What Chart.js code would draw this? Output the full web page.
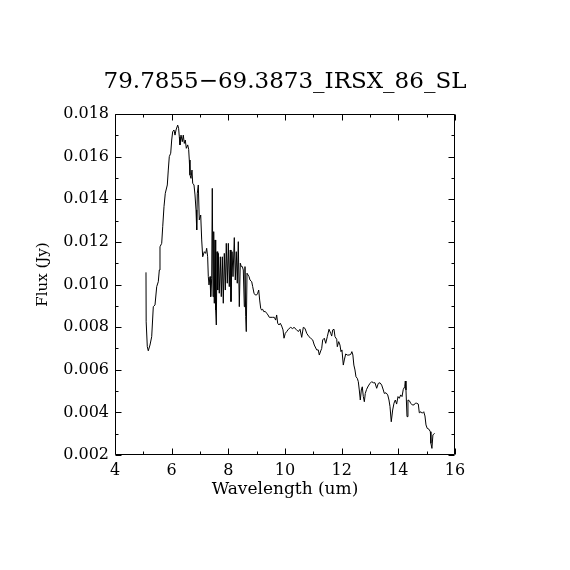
<!DOCTYPE html>
<html>
<head>
<meta charset="utf-8">
<script src="https://cdn.jsdelivr.net/npm/chart.js@4.4.1/dist/chart.umd.min.js"></script>
<style>
  html, body { margin: 0; padding: 0; background: #ffffff; }
  #wrap { width: 570px; height: 570px; position: relative; }
</style>
</head>
<body>
<div id="wrap"><canvas id="c" width="570" height="570"></canvas></div>
<script>
const chartTitle = "79.7855\u221269.3873_IRSX_86_SL";
const xTitle = "Wavelength (um)";
const yTitle = "Flux (Jy)";
const xTicks = [4, 6, 8, 10, 12, 14, 16];
const yTicks = [0.002, 0.004, 0.006, 0.008, 0.010, 0.012, 0.014, 0.016, 0.018];

const wavelength = [5.094,5.10,5.14,5.175,5.235,5.295,5.352,5.412,5.472,5.528,5.564,5.588,5.648,5.684,5.729,5.775,5.846,5.881,5.916,5.966,6.001,6.036,6.082,6.118,6.153,6.213,6.245,6.27,6.294,6.33,6.375,6.41,6.446,6.48,6.517,6.566,6.60,6.622,6.647,6.682,6.717,6.742,6.788,6.824,6.859,6.884,6.905,6.94,6.975,7.025,7.06,7.095,7.152,7.20,7.236,7.27,7.293,7.318,7.353,7.378,7.413,7.434,7.459,7.484,7.505,7.53,7.554,7.576,7.60,7.625,7.646,7.68,7.717,7.752,7.787,7.822,7.858,7.893,7.928,7.963,8.0,8.034,8.069,8.094,8.13,8.165,8.211,8.246,8.281,8.316,8.352,8.387,8.422,8.458,8.494,8.528,8.564,8.588,8.613,8.634,8.659,8.69,8.73,8.765,8.825,8.86,8.906,8.95,9.0,9.036,9.072,9.106,9.142,9.176,9.21,9.255,9.30,9.355,9.40,9.446,9.506,9.566,9.622,9.67,9.706,9.742,9.788,9.834,9.883,9.93,9.965,10.01,10.06,10.118,10.2,10.27,10.318,10.39,10.47,10.53,10.59,10.646,10.706,10.766,10.847,10.907,10.977,11.034,11.118,11.175,11.21,11.26,11.295,11.33,11.388,11.437,11.493,11.553,11.613,11.648,11.684,11.729,11.765,11.825,11.846,11.895,11.94,11.976,12.01,12.058,12.093,12.142,12.2,12.26,12.32,12.36,12.396,12.43,12.47,12.505,12.55,12.587,12.622,12.658,12.693,12.728,12.764,12.8,12.834,12.88,12.94,13.0,13.06,13.117,13.176,13.236,13.293,13.353,13.413,13.47,13.505,13.565,13.625,13.67,13.706,13.75,13.8,13.847,13.893,13.94,13.988,14.034,14.084,14.13,14.175,14.225,14.246,14.27,14.306,14.34,14.387,14.436,14.49,14.553,14.6,14.648,14.705,14.74,14.8,14.846,14.896,14.94,14.976,15.02,15.08,15.13,15.15,15.186,15.22,15.28];

const flux = [0.01057,0.00825,0.00708,0.00689,0.00716,0.00755,0.00896,0.00904,0.00990,0.01013,0.01068,0.01177,0.01193,0.01271,0.01365,0.01428,0.01467,0.01537,0.0160,0.01616,0.01678,0.01717,0.01725,0.01701,0.01725,0.01748,0.01733,0.01693,0.01655,0.01701,0.0167,0.01701,0.01662,0.01678,0.01639,0.01655,0.01634,0.01584,0.01514,0.01498,0.01537,0.01475,0.01467,0.0142,0.0135,0.01256,0.01428,0.01467,0.01303,0.01326,0.01209,0.01130,0.01154,0.01146,0.0117,0.0113,0.01037,0.00998,0.01037,0.00943,0.01029,0.01451,0.00943,0.01248,0.00912,0.01209,0.0088,0.0081,0.01154,0.00974,0.01146,0.00959,0.0113,0.00943,0.0113,0.00912,0.01146,0.00974,0.01193,0.01006,0.01193,0.0099,0.01162,0.0092,0.01154,0.01037,0.0122,0.01021,0.01154,0.01006,0.01201,0.00896,0.011,0.01084,0.01084,0.01068,0.00896,0.01084,0.00849,0.00779,0.01053,0.01053,0.01037,0.01021,0.01013,0.0099,0.00959,0.00951,0.00951,0.00959,0.00974,0.00927,0.00888,0.0088,0.00884,0.00872,0.00874,0.00865,0.00857,0.00846,0.00846,0.00846,0.00846,0.00833,0.00857,0.00818,0.0081,0.00818,0.00805,0.00787,0.00748,0.00771,0.00779,0.0079,0.00799,0.00793,0.00799,0.0079,0.00779,0.0079,0.00752,0.00799,0.00794,0.00771,0.00755,0.00748,0.0074,0.00716,0.00693,0.00693,0.00669,0.00688,0.007,0.0074,0.00748,0.00724,0.00755,0.0079,0.00771,0.00758,0.00787,0.0079,0.00755,0.00743,0.00708,0.00732,0.00716,0.00685,0.00693,0.00622,0.00646,0.00674,0.00669,0.00669,0.00672,0.00685,0.00669,0.00622,0.00599,0.00567,0.0056,0.00544,0.00505,0.00458,0.00505,0.0052,0.00474,0.0045,0.00489,0.00508,0.00524,0.00536,0.00544,0.00539,0.00539,0.00513,0.00536,0.00539,0.00528,0.00505,0.00489,0.00492,0.00482,0.00458,0.00427,0.00356,0.00411,0.00443,0.00458,0.00439,0.00474,0.00466,0.00482,0.00474,0.00508,0.0052,0.00547,0.00505,0.0038,0.00458,0.00455,0.00443,0.00435,0.00435,0.00443,0.00443,0.00439,0.00398,0.00403,0.00396,0.00403,0.00383,0.00341,0.00325,0.00321,0.00309,0.00255,0.00231,0.00294,0.00302];

const nPts = Math.min(wavelength.length, flux.length);
const points = [];
for (let i = 0; i < nPts; i++) points.push({ x: wavelength[i], y: flux[i] });

const FONT = "'DejaVu Serif', 'Liberation Serif', serif";

// Frame, inward major/minor ticks on all four sides, and rotated y title
const framePlugin = {
  id: 'frameTicks',
  afterDraw(chart) {
    const ctx = chart.ctx;
    const a = chart.chartArea;
    const xs = chart.scales.x, ys = chart.scales.y;
    const L = Math.round(a.left) + 0.5, R = Math.round(a.right) - 0.5;
    const T = Math.round(a.top) + 0.5, B = Math.round(a.bottom) - 0.5;
    ctx.save();
    ctx.strokeStyle = '#000';
    ctx.lineWidth = 1;
    ctx.beginPath();
    ctx.rect(L, T, R - L, B - T);
    ctx.stroke();
    const major = 6, minor = 3;
    ctx.beginPath();
    for (let v = xs.min; v <= xs.max + 1e-9; v += 1) {
      const p = Math.round(xs.getPixelForValue(v)) + 0.5;
      const len = (Math.round(v) % 2 === 0) ? major : minor;
      ctx.moveTo(p, B); ctx.lineTo(p, B - len);
      ctx.moveTo(p, T); ctx.lineTo(p, T + len);
    }
    for (let k = 0; ; k++) {
      const v = ys.min + k * 0.001;
      if (v > ys.max + 1e-9) break;
      const p = Math.round(ys.getPixelForValue(v)) + 0.5;
      const len = (k % 2 === 0) ? major : minor;
      ctx.moveTo(L, p); ctx.lineTo(L + len, p);
      ctx.moveTo(R, p); ctx.lineTo(R - len, p);
    }
    ctx.stroke();
    ctx.fillStyle = '#000';
    ctx.font = "15px " + FONT;
    ctx.textAlign = 'center';
    ctx.textBaseline = 'middle';
    ctx.translate(43, (a.top + a.bottom) / 2 - 10);
    ctx.rotate(-Math.PI / 2);
    ctx.fillText(yTitle, 0, 0);
    ctx.restore();
  }
};

new Chart(document.getElementById('c'), {
  type: 'line',
  data: {
    datasets: [{
      data: points,
      borderColor: '#000000',
      borderWidth: 1,
      pointRadius: 0,
      tension: 0,
      fill: false
    }]
  },
  options: {
    responsive: false,
    animation: false,
    devicePixelRatio: 1,
    layout: { padding: 0 },
    plugins: {
      legend: { display: false },
      tooltip: { enabled: false },
      title: {
        display: true,
        text: chartTitle,
        color: '#000',
        font: { family: FONT, size: 23, weight: 'normal', lineHeight: 1.2 },
        padding: { top: 68, bottom: 18.4 }
      }
    },
    scales: {
      x: {
        type: 'linear',
        min: 4, max: 16,
        afterFit(s) { s.height = 115; },
        afterBuildTicks(s) { s.ticks = xTicks.map(v => ({ value: v })); },
        grid: { display: false, drawTicks: false },
        border: { display: false },
        ticks: {
          color: '#000',
          padding: 6,
          maxRotation: 0,
          font: { family: FONT, size: 16 },
          callback: v => String(v)
        },
        title: {
          display: true,
          text: xTitle,
          color: '#000',
          font: { family: FONT, size: 17 },
          padding: { top: 0, bottom: 70 }
        }
      },
      y: {
        type: 'linear',
        min: 0.002, max: 0.018,
        afterFit(s) { s.width = 115; },
        afterBuildTicks(s) { s.ticks = yTicks.map(v => ({ value: v })); },
        grid: { display: false, drawTicks: false },
        border: { display: false },
        ticks: {
          color: '#000',
          padding: 6,
          font: { family: FONT, size: 16 },
          callback: v => Number(v).toFixed(3)
        }
      },
      yRight: {
        type: 'linear',
        position: 'right',
        min: 0.002, max: 0.018,
        afterFit(s) { s.width = 115; },
        grid: { display: false, drawTicks: false },
        border: { display: false },
        ticks: { display: false }
      }
    }
  },
  plugins: [framePlugin]
});
</script>
</body>
</html>
